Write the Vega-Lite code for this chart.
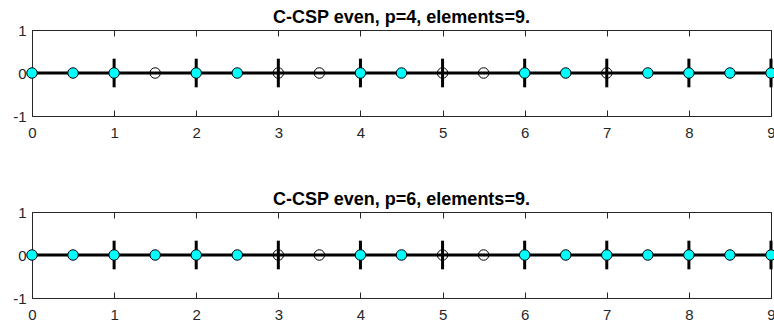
{
  "$schema": "https://vega.github.io/schema/vega-lite/v6.json",
  "autosize": {"type": "pad"},
  "padding": {"left": 12, "top": 8, "right": -4, "bottom": 5},
  "background": "white",
  "spacing": 96,
  "bounds": "flush",
  "config": {
    "view": {"stroke": "#262626", "strokeWidth": 1},
    "font": "Liberation Sans",
    "axis": {
      "labelFont": "Liberation Sans",
      "labelFontSize": 15,
      "labelColor": "#262626",
      "labelOverlap": false,
      "labelFlush": false,
      "domain": false,
      "grid": false,
      "tickColor": "#262626",
      "tickSize": -6,
      "tickWidth": 1,
      "title": null
    },
    "axisX": {"labelPadding": 15},
    "axisY": {"labelPadding": 12},
    "title": {"font": "Liberation Sans", "fontSize": 18, "fontWeight": "bold", "color": "black", "anchor": "middle", "offset": -4}
  },
  "datasets": {
    "mesh": [{"start": 0, "end": 9}],
    "boundaries": [
      {"x": 1}, {"x": 2}, {"x": 3}, {"x": 4}, {"x": 5},
      {"x": 6}, {"x": 7}, {"x": 8}, {"x": 9}
    ],
    "nodes": [
      {"p": 4, "x": 0, "kind": "active"},
      {"p": 4, "x": 0.5, "kind": "active"},
      {"p": 4, "x": 1, "kind": "active"},
      {"p": 4, "x": 1.5, "kind": "inactive"},
      {"p": 4, "x": 2, "kind": "active"},
      {"p": 4, "x": 2.5, "kind": "active"},
      {"p": 4, "x": 3, "kind": "inactive"},
      {"p": 4, "x": 3.5, "kind": "inactive"},
      {"p": 4, "x": 4, "kind": "active"},
      {"p": 4, "x": 4.5, "kind": "active"},
      {"p": 4, "x": 5, "kind": "inactive"},
      {"p": 4, "x": 5.5, "kind": "inactive"},
      {"p": 4, "x": 6, "kind": "active"},
      {"p": 4, "x": 6.5, "kind": "active"},
      {"p": 4, "x": 7, "kind": "inactive"},
      {"p": 4, "x": 7.5, "kind": "active"},
      {"p": 4, "x": 8, "kind": "active"},
      {"p": 4, "x": 8.5, "kind": "active"},
      {"p": 4, "x": 9, "kind": "active"},
      {"p": 6, "x": 0, "kind": "active"},
      {"p": 6, "x": 0.5, "kind": "active"},
      {"p": 6, "x": 1, "kind": "active"},
      {"p": 6, "x": 1.5, "kind": "active"},
      {"p": 6, "x": 2, "kind": "active"},
      {"p": 6, "x": 2.5, "kind": "active"},
      {"p": 6, "x": 3, "kind": "inactive"},
      {"p": 6, "x": 3.5, "kind": "inactive"},
      {"p": 6, "x": 4, "kind": "active"},
      {"p": 6, "x": 4.5, "kind": "active"},
      {"p": 6, "x": 5, "kind": "inactive"},
      {"p": 6, "x": 5.5, "kind": "inactive"},
      {"p": 6, "x": 6, "kind": "active"},
      {"p": 6, "x": 6.5, "kind": "active"},
      {"p": 6, "x": 7, "kind": "active"},
      {"p": 6, "x": 7.5, "kind": "active"},
      {"p": 6, "x": 8, "kind": "active"},
      {"p": 6, "x": 8.5, "kind": "active"},
      {"p": 6, "x": 9, "kind": "active"}
    ]
  },
  "vconcat": [
    {
      "title": {"text": "C-CSP even, p=4, elements=9."},
      "width": 739,
      "height": 86,
      "resolve": {"axis": {"x": "independent", "y": "independent"}},
      "layer": [
        {
          "data": {"name": "mesh"},
          "mark": {"type": "rule", "color": "black", "strokeWidth": 3},
          "encoding": {
            "x": {"field": "start", "type": "quantitative", "scale": {"domain": [0, 9], "nice": false, "zero": false},
                  "axis": {"orient": "bottom", "values": [0, 1, 2, 3, 4, 5, 6, 7, 8, 9], "format": "d"}},
            "x2": {"field": "end"},
            "y": {"datum": 0, "type": "quantitative", "scale": {"domain": [-1, 1], "nice": false},
                  "axis": {"orient": "left", "values": [-1, 0, 1], "labelExpr": "toString(datum.value)"}}
          }
        },
        {
          "data": {"name": "boundaries"},
          "mark": {"type": "rule", "color": "black", "strokeWidth": 3},
          "encoding": {
            "x": {"field": "x", "type": "quantitative",
                  "axis": {"orient": "top", "values": [0, 1, 2, 3, 4, 5, 6, 7, 8, 9], "labels": false}},
            "y": {"datum": -0.333, "type": "quantitative",
                  "axis": {"orient": "right", "values": [-1, 0, 1], "labels": false}},
            "y2": {"datum": 0.333}
          }
        },
        {
          "data": {"name": "nodes"},
          "transform": [{"filter": "datum.p == 4 && datum.kind == 'inactive'"}],
          "mark": {"type": "point", "shape": "circle", "size": 110, "filled": false, "stroke": "black", "strokeWidth": 1, "opacity": 1},
          "encoding": {
            "x": {"field": "x", "type": "quantitative", "axis": null},
            "y": {"datum": 0, "type": "quantitative", "axis": null}
          }
        },
        {
          "data": {"name": "nodes"},
          "transform": [{"filter": "datum.p == 4 && datum.kind == 'active'"}],
          "mark": {"type": "point", "shape": "circle", "size": 110, "filled": true, "fill": "#00FFFF", "stroke": "black", "strokeWidth": 1, "opacity": 1},
          "encoding": {
            "x": {"field": "x", "type": "quantitative", "axis": null},
            "y": {"datum": 0, "type": "quantitative", "axis": null}
          }
        }
      ]
    },
    {
      "title": {"text": "C-CSP even, p=6, elements=9."},
      "width": 739,
      "height": 86,
      "resolve": {"axis": {"x": "independent", "y": "independent"}},
      "layer": [
        {
          "data": {"name": "mesh"},
          "mark": {"type": "rule", "color": "black", "strokeWidth": 3},
          "encoding": {
            "x": {"field": "start", "type": "quantitative", "scale": {"domain": [0, 9], "nice": false, "zero": false},
                  "axis": {"orient": "bottom", "values": [0, 1, 2, 3, 4, 5, 6, 7, 8, 9], "format": "d"}},
            "x2": {"field": "end"},
            "y": {"datum": 0, "type": "quantitative", "scale": {"domain": [-1, 1], "nice": false},
                  "axis": {"orient": "left", "values": [-1, 0, 1], "labelExpr": "toString(datum.value)"}}
          }
        },
        {
          "data": {"name": "boundaries"},
          "mark": {"type": "rule", "color": "black", "strokeWidth": 3},
          "encoding": {
            "x": {"field": "x", "type": "quantitative",
                  "axis": {"orient": "top", "values": [0, 1, 2, 3, 4, 5, 6, 7, 8, 9], "labels": false}},
            "y": {"datum": -0.333, "type": "quantitative",
                  "axis": {"orient": "right", "values": [-1, 0, 1], "labels": false}},
            "y2": {"datum": 0.333}
          }
        },
        {
          "data": {"name": "nodes"},
          "transform": [{"filter": "datum.p == 6 && datum.kind == 'inactive'"}],
          "mark": {"type": "point", "shape": "circle", "size": 110, "filled": false, "stroke": "black", "strokeWidth": 1, "opacity": 1},
          "encoding": {
            "x": {"field": "x", "type": "quantitative", "axis": null},
            "y": {"datum": 0, "type": "quantitative", "axis": null}
          }
        },
        {
          "data": {"name": "nodes"},
          "transform": [{"filter": "datum.p == 6 && datum.kind == 'active'"}],
          "mark": {"type": "point", "shape": "circle", "size": 110, "filled": true, "fill": "#00FFFF", "stroke": "black", "strokeWidth": 1, "opacity": 1},
          "encoding": {
            "x": {"field": "x", "type": "quantitative", "axis": null},
            "y": {"datum": 0, "type": "quantitative", "axis": null}
          }
        }
      ]
    }
  ]
}
